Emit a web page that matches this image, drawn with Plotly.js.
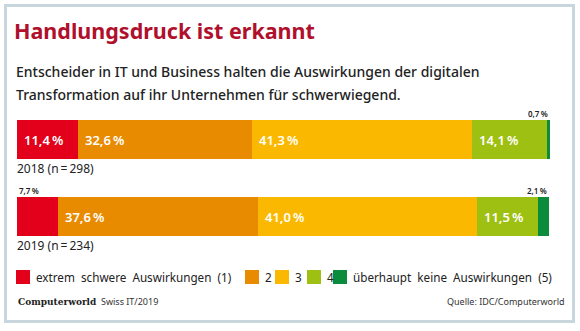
<!DOCTYPE html>
<html>
<head>
<meta charset="utf-8">
<script src="https://cdn.plot.ly/plotly-3.0.1.min.js"></script>
<style>
html,body{margin:0;padding:0;background:#fff;}
#chart{width:580px;height:331px;}
</style>
</head>
<body>
<div id="chart"></div>
<script>
// ---- data ----
const years = ['2018 (n\u2009=\u2009298)', '2019 (n\u2009=\u2009234)'];
const levels = ['extrem schwere Auswirkungen (1)', '2', '3', '4', 'überhaupt keine Auswirkungen (5)'];
const values2018 = [11.4, 32.6, 41.3, 14.1, 0.7];
const values2019 = [7.7, 37.6, 41.0, 11.5, 2.1];
const colors = ['#e2001a', '#e88b00', '#fab900', '#9ec012', '#0a8c3c'];

const title = 'Handlungsdruck ist erkannt';
const subtitle1 = 'Entscheider in IT und Business halten die Auswirkungen der digitalen';
const subtitle2 = 'Transformation auf ihr Unternehmen für schwerwiegend.';
const brand = 'Computerworld';
const issue = 'Swiss IT/2019';
const source = 'Quelle: IDC/Computerworld';

// ---- geometry ----
const W = 580, H = 331;
const M = {l: 17, r: 30, t: 101, b: 76};
const PW = W - M.l - M.r, PH = H - M.t - M.b;
const px2x = px => (px - M.l) / PW;
const px2y = py => (H - M.b - py) / PH;
const XMAX = 100;

const FONT = 'Noto Sans, Open Sans, sans-serif';
const rows = [values2018, values2019];

const traces = levels.map((name, i) => ({
  type: 'bar',
  orientation: 'h',
  name: name,
  y: years,
  x: rows.map(r => r[i]),
  marker: {color: colors[i], line: {width: 0}},
  hoverinfo: 'skip'
}));

const fmt = v => v.toFixed(1).replace('.', ',') + '\u2009%';

const annotations = [];
rows.forEach((row, r) => {
  let cum = 0;
  row.forEach((v, i) => {
    const start = cum; cum += v;
    if (v >= 9) {
      annotations.push({xref: 'x', yref: 'y', x: start, y: r, xanchor: 'left', yanchor: 'middle',
        xshift: 5, text: fmt(v), showarrow: false,
        font: {family: FONT, size: 13, color: '#ffffff', weight: 600}});
    } else {
      const first = i === 0;
      annotations.push({xref: 'x', yref: 'y', x: first ? start : Math.min(cum, XMAX), y: r,
        xanchor: first ? 'left' : 'right', yanchor: 'bottom', yshift: 19,
        text: fmt(v), showarrow: false,
        font: {family: FONT, size: 8, color: '#222', weight: 600}});
    }
  });
  annotations.push({xref: 'x', yref: 'y', x: 0, y: r, xanchor: 'left', yanchor: 'middle',
    yshift: -29, xshift: -2, text: years[r], showarrow: false,
    font: {family: FONT, size: 12, color: '#222'}});
});

// subtitle
annotations.push({xref: 'paper', yref: 'paper', x: px2x(14), y: px2y(71), xanchor: 'left', yanchor: 'middle',
  text: subtitle1, showarrow: false, font: {family: FONT, size: 14, color: '#222', weight: 500}});
annotations.push({xref: 'paper', yref: 'paper', x: px2x(14), y: px2y(94), xanchor: 'left', yanchor: 'middle',
  text: subtitle2, showarrow: false, font: {family: FONT, size: 14, color: '#222', weight: 500}});

// legend (custom)
const legendX = [16, 245, 275, 307, 333];
const legendY = 277;
const shapes = [];
levels.forEach((name, i) => {
  shapes.push({type: 'rect', xref: 'paper', yref: 'paper',
    x0: px2x(legendX[i]), x1: px2x(legendX[i] + 14), y0: px2y(legendY - 7), y1: px2y(legendY + 7),
    fillcolor: colors[i], line: {width: 0}});
  annotations.push({xref: 'paper', yref: 'paper', x: px2x(legendX[i] + 18), y: px2y(legendY),
    xanchor: 'left', yanchor: 'middle', text: name.replace(/ /g, '\u00a0 '), showarrow: false,
    font: {family: FONT, size: 11.7, color: '#222'}});
});

// footer
annotations.push({xref: 'paper', yref: 'paper', x: px2x(16), y: px2y(301), xanchor: 'left', yanchor: 'middle',
  text: '<b>' + brand + '</b>', showarrow: false,
  font: {family: 'DejaVu Serif Condensed, DejaVu Serif, serif', size: 10, color: '#222'}});
annotations.push({xref: 'paper', yref: 'paper', x: px2x(99), y: px2y(301), xanchor: 'left', yanchor: 'middle',
  text: issue, showarrow: false,
  font: {family: 'Liberation Sans Narrow, Noto Sans, sans-serif', size: 9, color: '#333'}});
annotations.push({xref: 'paper', yref: 'paper', x: px2x(567), y: px2y(301), xanchor: 'right', yanchor: 'middle',
  text: source, showarrow: false,
  font: {family: 'Liberation Sans Narrow, Noto Sans, sans-serif', size: 9, color: '#333'}});

// frame
shapes.push({type: 'rect', xref: 'paper', yref: 'paper', layer: 'below',
  x0: px2x(5.5), x1: px2x(573.5), y0: px2y(321.5), y1: px2y(5.5),
  line: {color: '#c8d6dd', width: 3}, fillcolor: 'rgba(0,0,0,0)'});

const layout = {
  width: W, height: H,
  margin: M,
  paper_bgcolor: '#ffffff', plot_bgcolor: 'rgba(0,0,0,0)',
  barmode: 'stack',
  bargap: 0.506,
  showlegend: false,
  hovermode: false,
  title: {text: title, x: 14 / W, xanchor: 'left', xref: 'container', yref: 'container',
    y: 1 - 31 / H, yanchor: 'middle',
    font: {family: FONT, size: 21.5, color: '#b0102c', weight: 700}},
  xaxis: {range: [0, XMAX], visible: false, fixedrange: true},
  yaxis: {type: 'category', range: [1.5, -0.5], visible: false, fixedrange: true},
  annotations: annotations,
  shapes: shapes
};

Plotly.newPlot('chart', traces, layout, {staticPlot: true, displayModeBar: false});
</script>
</body>
</html>
